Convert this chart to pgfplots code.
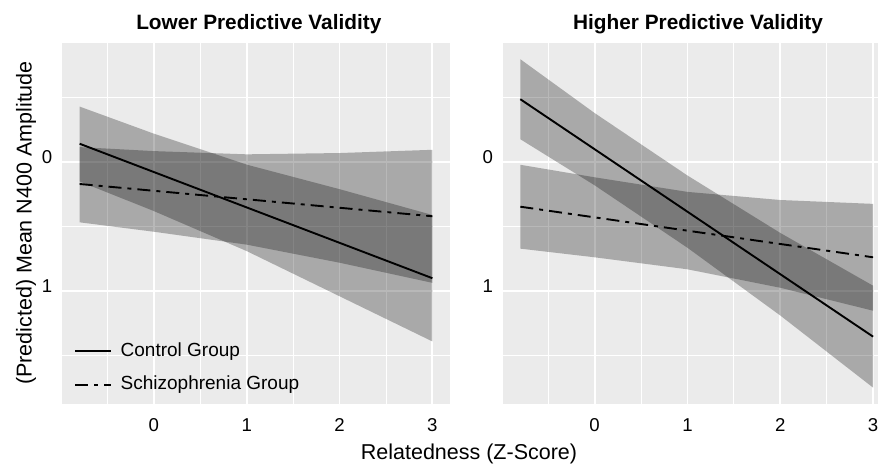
\documentclass[border=0pt]{standalone}
\usepackage{pgfplots}
\pgfplotsset{compat=1.18}
\usepackage{fontspec}
\setmainfont{Liberation Sans}
\definecolor{panelbg}{HTML}{EBEBEB}

\pgfplotsset{
  facet/.style={
    scale only axis, width=194pt, height=180.65pt,
    anchor=south west,
    xmin=-0.99, xmax=3.19, ymin=-0.925, ymax=1.875, y dir=reverse,
    axis background/.style={fill=panelbg},
    axis line style={draw=none},
    xtick={0,1,2,3}, ytick={0,1},
    minor xtick={-0.5,0.5,1.5,2.5}, minor ytick={-0.5,0.5,1.5},
    grid=both,
    major grid style={white, line width=0.9pt},
    minor grid style={white, line width=0.45pt},
    tick style={draw=none},
    /pgf/number format/assume math mode=true,
    ticklabel style={font=\fontsize{9.3}{11}\selectfont, text=black},
    xticklabel style={anchor=north, inner sep=0pt, yshift=-7.2pt},
    yticklabel style={anchor=east, inner sep=0pt, xshift=-4.7pt, yshift=2.5pt},
  },
  band/.style={fill=black, fill opacity=0.28, draw=none},
  ctrl/.style={black, line width=0.95pt},
  schz/.style={black, line width=0.95pt, dash pattern=on 6.5pt off 3pt on 2pt off 3pt},
}

\begin{document}
\begin{tikzpicture}
% ---------------- Left panel: Lower Predictive Validity ----------------
\begin{axis}[facet, at={(31pt,-202pt)},
  legend cell align=left,
  legend style={draw=none, fill=none, at={(0,0)}, anchor=south west,
    xshift=6pt, yshift=5pt, inner sep=0pt, row sep=7.6pt,
    font=\fontsize{9.5}{11}\selectfont,
    nodes={inner sep=0pt, text height=7pt, text depth=2pt},
    /tikz/column 2/.style={column sep=0pt}},
  legend image code/.code={\draw[#1] (0pt,0pt) -- (18pt,0pt);},
]
\addplot[band, forget plot] coordinates {
  (-0.8,-0.43) (0,-0.22) (1,0.02) (2,0.21) (3,0.41)
  (3,1.39) (2,1.04) (1,0.69) (0,0.38) (-0.8,0.15)} -- cycle;
\addplot[band, forget plot] coordinates {
  (-0.8,-0.116) (0,-0.085) (1,-0.06) (2,-0.07) (3,-0.095)
  (3,0.936) (2,0.78) (1,0.64) (0,0.54) (-0.8,0.467)} -- cycle;
\addplot[ctrl] coordinates {(-0.8,-0.142) (3,0.900)};
\addlegendentry{\hspace{4.2pt}Control Group}
\addplot[schz] coordinates {(-0.8,0.170) (3,0.420)};
\addlegendentry{\hspace{4.2pt}Schizophrenia Group}
\end{axis}

% ---------------- Right panel: Higher Predictive Validity ----------------
\begin{axis}[facet, at={(251.35pt,-202pt)}]
\addplot[band] coordinates {
  (-0.8,-0.797) (0,-0.38) (1,0.104) (2,0.549) (3,0.958)
  (3,1.748) (2,1.189) (1,0.664) (0,0.18) (-0.8,-0.177)} -- cycle;
\addplot[band] coordinates {
  (-0.8,0.021) (0,0.118) (1,0.231) (2,0.294) (3,0.324)
  (3,1.152) (2,0.974) (1,0.831) (0,0.738) (-0.8,0.671)} -- cycle;
\addplot[ctrl] coordinates {(-0.8,-0.487) (3,1.353)};
\addplot[schz] coordinates {(-0.8,0.346) (3,0.738)};
\end{axis}

% ---------------- Titles and axis labels ----------------
\node[anchor=base, font=\bfseries\fontsize{10.4}{12}\selectfont] at (129.4pt,-15pt) {Lower Predictive Validity};
\node[anchor=base, font=\bfseries\fontsize{10.4}{12}\selectfont] at (349pt,-15pt) {Higher Predictive Validity};
\node[anchor=base, font=\fontsize{10.75}{12}\selectfont] at (234.5pt,-229.5pt) {Relatedness (Z-Score)};
\node[anchor=base, rotate=90, font=\fontsize{10.75}{12}\selectfont] at (15.8pt,-111.5pt) {(Predicted) Mean N400 Amplitude};

\pgfresetboundingbox
\path[use as bounding box] (0pt,0pt) rectangle (439pt,-232.5pt);
\end{tikzpicture}
\end{document}
